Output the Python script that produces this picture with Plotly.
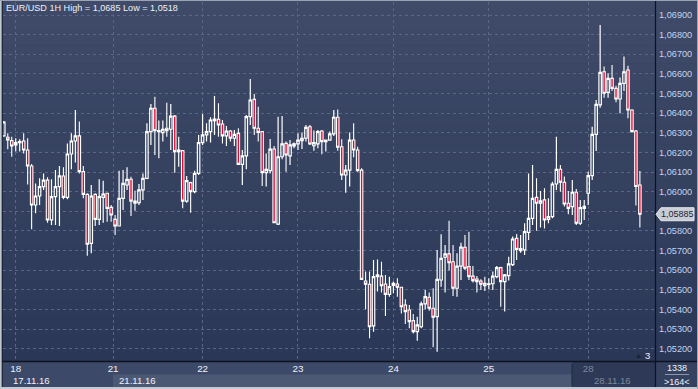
import plotly.graph_objects as go

# ---------------- data (EUR/USD, 1H candles) ----------------
opens = [1.06284,1.06277,1.06260,1.06238,1.06250,1.06258,1.06212,1.06131,1.05932,1.05978,
         1.06026,1.06059,1.05856,1.05975,1.06026,1.06080,1.05971,1.06192,1.06258,1.06284,
         1.06102,1.05986,1.05737,1.05986,1.05859,1.05971,1.05992,1.05920,1.05859,1.05825,
         1.05966,1.06034,1.06063,1.05952,1.05944,1.06009,1.06068,1.06306,1.06425,1.06306,
         1.06301,1.06323,1.06318,1.06385,1.06204,1.06209,1.05952,1.06046,1.06000,1.06093,
         1.06250,1.06289,1.06306,1.06362,1.06369,1.06345,1.06284,1.06309,1.06272,1.06297,
         1.06139,1.06182,1.06382,1.06470,1.06323,1.06306,1.06097,1.06107,1.06217,1.05835,
         1.06178,1.06246,1.06182,1.06233,1.06243,1.06260,1.06272,1.06331,1.06234,1.06243,
         1.06309,1.06255,1.06263,1.06294,1.06379,1.06229,1.06085,1.06110,1.06263,1.06212,
         1.06110,1.05545,1.05528,1.05316,1.05567,1.05570,1.05530,1.05477,1.05523,1.05530,
         1.05513,1.05423,1.05397,1.05343,1.05287,1.05312,1.05428,1.05462,1.05406,1.05363,
         1.05550,1.05666,1.05683,1.05643,1.05508,1.05621,1.05717,1.05618,1.05570,1.05555,
         1.05545,1.05533,1.05528,1.05531,1.05567,1.05613,1.05542,1.05572,1.05628,1.05762,
         1.05700,1.05703,1.05793,1.05864,1.05971,1.05941,1.05958,1.05859,1.05873,1.06039,
         1.06114,1.06048,1.05941,1.05924,1.05997,1.05839,1.05925,1.05992,1.06082,1.06292,
         1.06442,1.06611,1.06506,1.06577,1.06526,1.06472,1.06552,1.06620,1.06416,1.06309,
         1.06034]
highs = [1.06360,1.06297,1.06280,1.06272,1.06267,1.06297,1.06272,1.06141,1.06042,1.06068,
         1.06093,1.06073,1.06063,1.06110,1.06131,1.06124,1.06246,1.06297,1.06416,1.06357,
         1.06131,1.05992,1.06034,1.05992,1.06063,1.06056,1.05995,1.05932,1.05881,1.06107,
         1.06110,1.06124,1.06076,1.06005,1.06039,1.06093,1.06348,1.06447,1.06484,1.06362,
         1.06362,1.06453,1.06447,1.06390,1.06280,1.06212,1.06080,1.06051,1.06107,1.06289,
         1.06396,1.06348,1.06379,1.06487,1.06450,1.06365,1.06335,1.06314,1.06314,1.06323,
         1.06212,1.06391,1.06574,1.06498,1.06433,1.06306,1.06195,1.06268,1.06233,1.06382,
         1.06386,1.06255,1.06263,1.06250,1.06297,1.06301,1.06340,1.06340,1.06311,1.06314,
         1.06314,1.06265,1.06306,1.06416,1.06419,1.06267,1.06136,1.06301,1.06348,1.06229,
         1.06119,1.05593,1.05593,1.05652,1.05655,1.05643,1.05576,1.05567,1.05542,1.05559,
         1.05516,1.05452,1.05423,1.05377,1.05363,1.05440,1.05499,1.05486,1.05508,1.05703,
         1.05783,1.05728,1.05852,1.05728,1.05686,1.05740,1.05779,1.05796,1.05621,1.05570,
         1.05554,1.05567,1.05559,1.05593,1.05621,1.05618,1.05580,1.05669,1.05771,1.05784,
         1.05779,1.05839,1.06093,1.06136,1.06068,1.06003,1.06017,1.05966,1.06051,1.06280,
         1.06136,1.06077,1.06003,1.06059,1.06014,1.05958,1.05958,1.06102,1.06331,1.06467,
         1.06849,1.06637,1.06603,1.06645,1.06540,1.06581,1.06688,1.06642,1.06420,1.06314,
         1.06105]
lows = [1.06280,1.06216,1.06178,1.06204,1.06204,1.06195,1.06037,1.05808,1.05890,1.05932,
        1.06009,1.05842,1.05830,1.05830,1.05825,1.05961,1.05961,1.06114,1.06148,1.06093,
        1.05966,1.05674,1.05686,1.05825,1.05830,1.05842,1.05847,1.05847,1.05779,1.05822,
        1.05907,1.06009,1.05876,1.05903,1.05932,1.05958,1.06063,1.06238,1.06187,1.06170,
        1.06255,1.06280,1.06212,1.06097,1.06127,1.05915,1.05944,1.05893,1.05992,1.06085,
        1.06238,1.06255,1.06250,1.06289,1.06280,1.06246,1.06233,1.06255,1.06233,1.06137,
        1.06034,1.06114,1.06340,1.06289,1.06255,1.06029,1.06026,1.06093,1.05839,1.05830,
        1.06165,1.06102,1.06136,1.06221,1.06212,1.06217,1.06255,1.06238,1.06209,1.06221,
        1.06190,1.06204,1.06260,1.06284,1.06209,1.06059,1.05995,1.06026,1.06175,1.06102,
        1.05550,1.05401,1.05253,1.05287,1.05491,1.05486,1.05367,1.05465,1.05482,1.05465,
        1.05380,1.05326,1.05304,1.05278,1.05241,1.05304,1.05401,1.05394,1.05207,1.05185,
        1.05516,1.05486,1.05598,1.05469,1.05465,1.05550,1.05601,1.05550,1.05537,1.05486,
        1.05499,1.05494,1.05503,1.05499,1.05559,1.05414,1.05389,1.05547,1.05621,1.05652,
        1.05689,1.05677,1.05754,1.05830,1.05801,1.05818,1.05813,1.05839,1.05864,1.06009,
        1.06000,1.05924,1.05885,1.05881,1.05830,1.05830,1.05856,1.05932,1.06059,1.06207,
        1.06428,1.06479,1.06479,1.06513,1.06455,1.06399,1.06513,1.06374,1.06302,1.05929,
        1.05817]
closes = [1.06355,1.06263,1.06233,1.06250,1.06255,1.06212,1.06131,1.05932,1.05978,1.06026,
          1.06059,1.05856,1.05975,1.06026,1.06080,1.05971,1.06192,1.06258,1.06284,1.06102,
          1.05986,1.05732,1.05978,1.05859,1.05975,1.05988,1.05915,1.05881,1.05825,1.05966,
          1.06042,1.06063,1.05952,1.05941,1.06009,1.06068,1.06306,1.06425,1.06311,1.06311,
          1.06318,1.06311,1.06385,1.06204,1.06212,1.05952,1.06056,1.06000,1.06093,1.06250,
          1.06289,1.06306,1.06365,1.06370,1.06340,1.06284,1.06309,1.06272,1.06292,1.06139,
          1.06182,1.06382,1.06467,1.06323,1.06302,1.06097,1.06114,1.06217,1.05842,1.06178,
          1.06243,1.06187,1.06238,1.06243,1.06263,1.06272,1.06328,1.06243,1.06250,1.06306,
          1.06255,1.06263,1.06294,1.06379,1.06226,1.06085,1.06110,1.06263,1.06212,1.06107,
          1.05553,1.05528,1.05312,1.05567,1.05576,1.05521,1.05477,1.05516,1.05533,1.05513,
          1.05414,1.05389,1.05338,1.05287,1.05321,1.05428,1.05465,1.05406,1.05360,1.05553,
          1.05660,1.05683,1.05638,1.05508,1.05621,1.05717,1.05610,1.05567,1.05547,1.05542,
          1.05528,1.05521,1.05531,1.05570,1.05613,1.05542,1.05576,1.05632,1.05759,1.05706,
          1.05710,1.05796,1.05864,1.05966,1.05941,1.05953,1.05856,1.05873,1.06039,1.06114,
          1.06048,1.05937,1.05915,1.05997,1.05839,1.05919,1.05915,1.06082,1.06292,1.06445,
          1.06608,1.06501,1.06577,1.06526,1.06472,1.06552,1.06611,1.06416,1.06306,1.06026,
          1.05885]
bar_index = list(range(len(closes)))

day_labels = ["18", "21", "22", "23", "24", "25", "28"]
day_pos = [3, 27.5, 50, 74, 98, 122, 147]
date_labels = ["17.11.16", "21.11.16", "28.11.16"]
date_pos = [1.8, 28.5, 148]
price_ticks = [1.052, 1.053, 1.054, 1.055, 1.056, 1.057, 1.058, 1.059, 1.060,
               1.061, 1.062, 1.063, 1.064, 1.065, 1.066, 1.067, 1.068, 1.069]
bars_visible = 164
bars_total = 1338
title_text = "EUR/USD 1H High = 1,0685 Low = 1,0518"

# ---------------- layout helpers (pixel -> paper) ----------------
W, H = 698, 389
L, R, T, B = 3, 43, 2, 28
X1 = W - R
Y1 = H - B
def PX(x):
    return (x - L) / (X1 - L)
def PY(y):
    return (Y1 - y) / (Y1 - T)

YMIN, YMAX = 1.051374, 1.069662

fig = go.Figure()
fig.add_trace(go.Candlestick(
    x=bar_index, open=opens, high=highs, low=lows, close=closes,
    increasing=dict(line=dict(color="#ffffff", width=1.2), fillcolor="rgba(0,0,0,0)"),
    decreasing=dict(line=dict(color="#ffffff", width=1.1), fillcolor="#e8062f"),
    whiskerwidth=0, showlegend=False, hoverinfo="skip"))

shapes = []
# background gradient
n = 40
top_c = (63, 75, 104)
bot_c = (42, 55, 86)
for k in range(n):
    ya = k * Y1 / n
    yb = (k + 1) * Y1 / n
    t = (k + 0.5) / n
    c = tuple(round(top_c[j] + (bot_c[j] - top_c[j]) * t) for j in range(3))
    shapes.append(dict(type="rect", xref="paper", yref="paper", x0=PX(0), x1=PX(W),
                       y0=PY(yb), y1=PY(ya), fillcolor="rgb(%d,%d,%d)" % c,
                       line=dict(width=0), layer="below"))
# bottom time bar
shapes.append(dict(type="rect", xref="paper", yref="paper", x0=PX(0), x1=PX(X1),
                   y0=PY(H), y1=PY(Y1), fillcolor="#3c4968", line=dict(width=0), layer="below"))
shapes.append(dict(type="rect", xref="paper", yref="paper", x0=PX(113), x1=PX(572),
                   y0=PY(387), y1=PY(374.5), fillcolor="#4c5975", line=dict(width=0), layer="below"))
shapes.append(dict(type="rect", xref="paper", yref="paper", x0=PX(572), x1=PX(X1),
                   y0=PY(387), y1=PY(Y1), fillcolor="#2d3957", line=dict(width=0), layer="below"))
shapes.append(dict(type="line", xref="paper", yref="paper", x0=PX(572), x1=PX(572),
                   y0=PY(386), y1=PY(364), line=dict(color="#1f2840", width=1)))
shapes.append(dict(type="rect", xref="paper", yref="paper", x0=PX(X1), x1=PX(W),
                   y0=PY(H), y1=PY(Y1), fillcolor="#34415f", line=dict(width=0), layer="below"))
shapes.append(dict(type="line", xref="paper", yref="paper", x0=PX(665), x1=PX(689),
                   y0=PY(374.5), y1=PY(374.5), line=dict(color="#8c97ab", width=1)))
# separators
shapes.append(dict(type="line", xref="paper", yref="paper", x0=PX(0), x1=PX(W),
                   y0=PY(Y1 + 0.5), y1=PY(Y1 + 0.5), line=dict(color="#0c121e", width=1.5)))
shapes.append(dict(type="line", xref="paper", yref="paper", x0=PX(X1 + 0.5), x1=PX(X1 + 0.5),
                   y0=PY(H), y1=PY(0), line=dict(color="#0c121e", width=1.2)))
# frame
shapes.append(dict(type="rect", xref="paper", yref="paper", x0=PX(0), x1=PX(1.8),
                   y0=PY(H), y1=PY(0), fillcolor="#bfc7d1", line=dict(width=0)))
shapes.append(dict(type="line", xref="paper", yref="paper", x0=PX(2.3), x1=PX(2.3),
                   y0=PY(H), y1=PY(1), line=dict(color="#1a2233", width=1)))
shapes.append(dict(type="rect", xref="paper", yref="paper", x0=PX(0), x1=PX(W),
                   y0=PY(1), y1=PY(0), fillcolor="#9aa4b2", line=dict(width=0)))
shapes.append(dict(type="rect", xref="paper", yref="paper", x0=PX(0), x1=PX(W),
                   y0=PY(H), y1=PY(387), fillcolor="#c3cad3", line=dict(width=0)))
shapes.append(dict(type="rect", xref="paper", yref="paper", x0=PX(697), x1=PX(W),
                   y0=PY(H), y1=PY(0), fillcolor="#9aa4b2", line=dict(width=0)))

# last price marker
last = closes[-1]
yl = (last - YMIN) / (YMAX - YMIN)
hh = 6.5 / (Y1 - T)
shapes.append(dict(type="path", xref="paper", yref="paper",
                   path="M %f %f L %f %f L %f %f L %f %f L %f %f Z" % (
                       PX(656), yl, PX(661), yl + hh, PX(694), yl + hh,
                       PX(694), yl - hh, PX(661), yl - hh),
                   fillcolor="#c8cdd5", line=dict(color="#e6e9ee", width=1)))
# small triangle near "3"
shapes.append(dict(type="path", xref="paper", yref="paper",
                   path="M %f %f L %f %f L %f %f Z" % (PX(636), PY(358), PX(641), PY(358), PX(638.5), PY(354)),
                   fillcolor="#1c2435", line=dict(width=0)))

fig.update_layout(shapes=shapes)

annotations = [
    dict(text=title_text, xref="paper", yref="paper", x=PX(3.5), y=PY(8), xanchor="left",
         yanchor="middle", showarrow=False, font=dict(size=9.1, color="#eef2f8")),
    dict(text=("%.5f" % last).replace(".", ","), xref="paper", yref="paper", x=PX(677.5), y=yl,
         xanchor="center", yanchor="middle", showarrow=False, font=dict(size=9, color="#1a2235")),
    dict(text="3", xref="paper", yref="paper", x=PX(647.5), y=PY(355.5), xanchor="center",
         yanchor="middle", showarrow=False, font=dict(size=9.5, color="#f0f3f8")),
    dict(text=str(bars_total), xref="paper", yref="paper", x=PX(677), y=PY(368), xanchor="center",
         yanchor="middle", showarrow=False, font=dict(size=9, color="#eef2f8")),
    dict(text="&gt;%d&lt;" % bars_visible, xref="paper", yref="paper", x=PX(677), y=PY(381.5),
         xanchor="center", yanchor="middle", showarrow=False, font=dict(size=9, color="#eef2f8")),
]
for i, (lab, pos) in enumerate(zip(date_labels, date_pos)):
    col = "#7d8799" if i == len(date_labels) - 1 else "#eef2f8"
    annotations.append(dict(text=lab, xref="x", yref="paper", x=pos, y=PY(380.5), xanchor="left",
                            yanchor="middle", showarrow=False, font=dict(size=9.6, color=col)))
fig.update_layout(annotations=annotations)

ticktext = [lab if i < len(day_labels) - 1 else "<span style='color:#7d8799'>%s</span>" % lab
            for i, lab in enumerate(day_labels)]
# the price label box hides the tick label it covers
price_text = ["" if abs(p - last) < 0.0003 else ("%.5f" % p).replace(".", ",") for p in price_ticks]

fig.update_layout(
    width=W, height=H,
    margin=dict(l=L, r=R, t=T, b=B, pad=0),
    paper_bgcolor="#34415f",
    plot_bgcolor="rgba(0,0,0,0)",
    font=dict(family="Liberation Sans, Arial, sans-serif", size=9, color="#eef2f8"),
    boxgap=0.12,
    showlegend=False,
    xaxis=dict(range=[-0.2, 163.8], rangeslider=dict(visible=False), tickvals=day_pos,
               ticktext=ticktext, showgrid=True, gridcolor="#5a6784", griddash="3px,3px",
               gridwidth=1, zeroline=False, showline=False, ticks="",
               tickfont=dict(size=9.8, color="#eef2f8"), fixedrange=True),
    yaxis=dict(side="right", range=[YMIN, YMAX], tickvals=price_ticks, ticktext=price_text,
               showgrid=True, gridcolor="#5a6784", griddash="3px,3px", gridwidth=1,
               zeroline=False, showline=False, ticks="", ticklabelstandoff=3,
               tickfont=dict(size=9.2, color="#c3d4ee"), fixedrange=True),
)

fig.write_html("out.html", config={"displayModeBar": False},
               post_script="document.body.style.margin='0px';document.body.style.overflow='hidden';")
